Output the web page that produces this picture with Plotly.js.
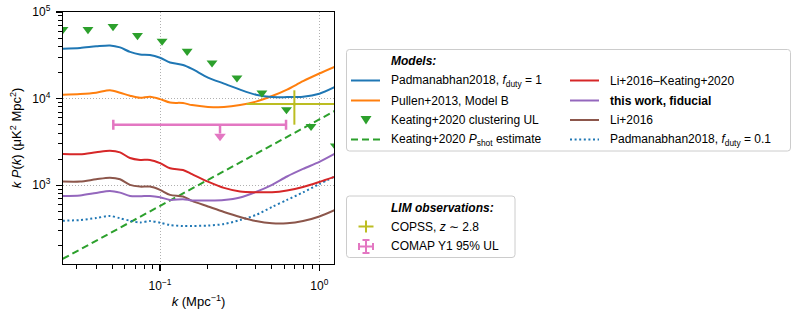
<!DOCTYPE html>
<html>
<head>
<meta charset="utf-8">
<script src="https://cdn.plot.ly/plotly-3.0.1.min.js"></script>
<style>html,body{margin:0;padding:0;background:#fff;}#chart{width:797px;height:311px;}</style>
</head>
<body>
<div id="chart"></div>
<script>
// ---------- data ----------
const kGrid = [0.0245, 0.0315, 0.0397, 0.0485, 0.0561, 0.0648, 0.0749, 0.0865, 0.100, 0.1156, 0.1394, 0.1588, 0.200, 0.252, 0.318, 0.400, 0.505, 0.627, 0.790, 1.00, 1.25];
const padm1   = [37700, 38500, 40100, 41100, 39000, 34600, 32400, 31900, 29600, 26100, 24400, 22000, 17500, 14900, 12700, 11100, 10400, 10400, 10500, 11400, 13600];
const pullen  = [11100, 11300, 11700, 12500, 11700, 10800, 10200, 10500, 9870, 8990, 8890, 8410, 8020, 7980, 8410, 9230, 10700, 12700, 15900, 19500, 23300];
const liKeat  = [2290, 2280, 2400, 2500, 2390, 2060, 1960, 1960, 1800, 1570, 1500, 1340, 1100, 931, 848, 830, 830, 871, 955, 1090, 1250];
const thisWork= [752, 762, 815, 859, 821, 750, 745, 752, 726, 676, 689, 667, 667, 676, 722, 836, 1010, 1260, 1540, 1860, 2310];
const li2016  = [1100, 1100, 1170, 1220, 1170, 1010, 963, 963, 883, 773, 739, 658, 568, 490, 429, 385, 363, 363, 385, 435, 517];
const padm01  = [389, 396, 418, 441, 415, 389, 371, 385, 369, 347, 338, 338, 342, 356, 396, 453, 561, 676, 826, 1030, 1260];

const kUL  = [0.0246, 0.0353, 0.0507, 0.0722, 0.103, 0.148, 0.212, 0.304, 0.436, 0.622, 0.887, 1.26];
const pUL  = [63000, 63000, 68200, 53700, 46100, 35300, 25900, 17400, 11640, 7460, 4780, 2850];

const kShot = [0.0245, 1.25];
const pShot = [141, 7200];

const copssK = [0.697], copssP = [8690];
const copssKlo = [0.350], copssKhi = [1.40];
const copssPlo = [5000], copssPhi = [12470];

const comapK = [0.238], comapP = [5000];
const comapKlo = [0.0509], comapKhi = [0.618];
const comapArrowP = [5000, 3950];
const comapTipP = [3670];

const xTickVals = [0.1, 1];
const xTickText = ['10<sup>−1</sup>', '10<sup>0</sup>'];
const yTickVals = [1e3, 1e4, 1e5];
const yTickText = ['10<sup>3</sup>', '10<sup>4</sup>', '10<sup>5</sup>'];

const modelNames = [
  'Padmanabhan2018, <i>f</i><sub>duty</sub> = 1',
  'Pullen+2013, Model B',
  'Keating+2020 clustering UL',
  'Keating+2020 <i>P</i><sub>shot</sub> estimate',
  'Li+2016–Keating+2020',
  '<b>this work, fiducial</b>',
  'Li+2016',
  'Padmanabhan2018, <i>f</i><sub>duty</sub> = 0.1'
];
const obsNames = ['COPSS, <i>z</i> ∼ 2.8', 'COMAP Y1 95% UL'];

// ---------- styles ----------
const C = {blue:'#1f77b4', orange:'#ff7f0e', green:'#2ca02c', red:'#d62728', purple:'#9467bd', brown:'#8c564b', pink:'#e377c2', olive:'#bcbd22'};
const FONT = 'Liberation Sans, Arial, Helvetica, sans-serif';
const LW = 2;

function curve(y, color, name, dash) {
  return {x: kGrid, y: y, type: 'scatter', mode: 'lines', name: name, showlegend: false,
          line: {color: color, width: LW, dash: dash || 'solid', shape: 'spline', smoothing: 0.8}};
}

const traces = [
  {x: kShot, y: pShot, type: 'scatter', mode: 'lines', name: modelNames[3], showlegend: false,
   line: {color: C.green, width: LW, dash: '7px,4px'}},
  curve(padm01, C.blue, modelNames[7], '2px,2.6px'),
  curve(li2016, C.brown, modelNames[6]),
  curve(thisWork, C.purple, modelNames[5]),
  curve(liKeat, C.red, modelNames[4]),
  curve(pullen, C.orange, modelNames[1]),
  curve(padm1, C.blue, modelNames[0]),
  {x: kUL, y: pUL, type: 'scatter', mode: 'markers', name: modelNames[2], showlegend: false,
   marker: {symbol: 'triangle-down', size: 9.5, color: C.green}},
  {x: copssK, y: copssP, type: 'scatter', mode: 'markers', name: obsNames[0], showlegend: false,
   marker: {size: 3, color: C.olive},
   error_x: {type: 'data', symmetric: false, array: [copssKhi[0] - copssK[0]], arrayminus: [copssK[0] - copssKlo[0]], color: C.olive, thickness: 2, width: 0},
   error_y: {type: 'data', symmetric: false, array: [copssPhi[0] - copssP[0]], arrayminus: [copssP[0] - copssPlo[0]], color: C.olive, thickness: 2, width: 0}},
  {x: comapK, y: comapP, type: 'scatter', mode: 'markers', name: obsNames[1], showlegend: false,
   marker: {size: 1, color: 'rgba(0,0,0,0)'},
   error_x: {type: 'data', symmetric: false, array: [comapKhi[0] - comapK[0]], arrayminus: [comapK[0] - comapKlo[0]], color: C.pink, thickness: 2.5, width: 5}},
  {x: [comapK[0], comapK[0]], y: comapArrowP, type: 'scatter', mode: 'lines', showlegend: false,
   line: {color: C.pink, width: 2.5}},
  {x: comapK, y: comapTipP, type: 'scatter', mode: 'markers', showlegend: false,
   marker: {symbol: 'triangle-down', size: 10, color: C.pink}}
];

// ---------- layout geometry (pixels) ----------
const W = 797, H = 311, L = 63, T = 12, PW = 271, PH = 252;
const px = v => (v - L) / PW;
const py = v => (T + PH - v) / PH;

function roundRect(x0, y0, x1, y1, r) {
  const P = (x, y) => px(x).toFixed(5) + ',' + py(y).toFixed(5);
  return 'M' + P(x0 + r, y0) + ' L' + P(x1 - r, y0) + ' Q' + P(x1, y0) + ' ' + P(x1, y0 + r) +
         ' L' + P(x1, y1 - r) + ' Q' + P(x1, y1) + ' ' + P(x1 - r, y1) +
         ' L' + P(x0 + r, y1) + ' Q' + P(x0, y1) + ' ' + P(x0, y1 - r) +
         ' L' + P(x0, y0 + r) + ' Q' + P(x0, y0) + ' ' + P(x0 + r, y0) + ' Z';
}
function seg(x0, y0, x1, y1, color, width, dash) {
  return {type: 'line', xref: 'paper', yref: 'paper', x0: px(x0), y0: py(y0), x1: px(x1), y1: py(y1),
          line: {color: color, width: width, dash: dash || 'solid'}};
}
function label(x, y, text) {
  return {xref: 'paper', yref: 'paper', x: px(x), y: py(y), xanchor: 'left', yanchor: 'middle',
          text: text, showarrow: false, font: {family: FONT, size: 12, color: '#000'}};
}

const shapes = [];
const annotations = [];

// Models legend box
shapes.push({type: 'path', xref: 'paper', yref: 'paper', path: roundRect(346.5, 49.5, 790.5, 151, 3),
             line: {color: '#cccccc', width: 1}, fillcolor: 'rgba(255,255,255,0.8)'});
annotations.push(label(389, 61.5, '<b><i>Models:</i></b>'));
const rowY = [80.5, 100.5, 120, 139.5];
const col1Colors = [[C.blue, 'solid'], [C.orange, 'solid'], null, [C.green, '7px,4px']];
const col2Colors = [[C.red, 'solid'], [C.purple, 'solid'], [C.brown, 'solid'], [C.blue, '2px,2.6px']];
for (let i = 0; i < 4; i++) {
  if (col1Colors[i]) shapes.push(seg(351, rowY[i], 380, rowY[i], col1Colors[i][0], LW, col1Colors[i][1]));
  shapes.push(seg(570, rowY[i], 599, rowY[i], col2Colors[i][0], LW, col2Colors[i][1]));
  annotations.push(label(389, rowY[i], modelNames[i]));
  annotations.push(label(608, rowY[i], modelNames[i + 4]));
}
// triangle legend symbol
shapes.push({type: 'path', xref: 'paper', yref: 'paper',
  path: 'M' + px(360.5) + ',' + py(116) + ' L' + px(371.5) + ',' + py(116) + ' L' + px(366) + ',' + py(124.5) + ' Z',
  line: {width: 0}, fillcolor: C.green});

// LIM legend box
shapes.push({type: 'path', xref: 'paper', yref: 'paper', path: roundRect(346.5, 196, 515, 257.5, 3),
             line: {color: '#cccccc', width: 1}, fillcolor: 'rgba(255,255,255,0.8)'});
annotations.push(label(389, 207.5, '<b><i>LIM observations:</i></b>'));
annotations.push(label(389, 226.5, obsNames[0]));
annotations.push(label(389, 246, obsNames[1]));
// COPSS symbol
shapes.push(seg(358.5, 226.5, 373.5, 226.5, C.olive, 2));
shapes.push(seg(366, 220.5, 366, 232.5, C.olive, 2));
// COMAP symbol
shapes.push(seg(358.5, 246.5, 373.5, 246.5, C.pink, 2));
shapes.push(seg(366, 239.5, 366, 253.5, C.pink, 2));
shapes.push(seg(359, 243, 359, 250, C.pink, 2));
shapes.push(seg(373, 243, 373, 250, C.pink, 2));
shapes.push(seg(362.5, 240, 369.5, 240, C.pink, 2));
shapes.push(seg(362.5, 253, 369.5, 253, C.pink, 2));

function minorVals(lo, hi) {
  const out = [];
  for (let e = lo; e < hi; e++) for (let d = 2; d <= 9; d++) out.push(d * Math.pow(10, e));
  return out;
}

const axisCommon = {
  type: 'log', showline: true, linecolor: '#000', linewidth: 1.3, mirror: true,
  ticks: 'outside', ticklen: 6, tickwidth: 1.2, tickcolor: '#000',
  showgrid: true, gridcolor: '#b0b0b0', gridwidth: 1, griddash: '1px,2px',
  zeroline: false, tickmode: 'array',
  tickfont: {family: FONT, size: 12, color: '#000'}
};

const layout = {
  width: W, height: H,
  margin: {l: L, r: W - L - PW, t: T, b: H - T - PH, pad: 0},
  paper_bgcolor: '#fff', plot_bgcolor: '#fff',
  showlegend: false,
  font: {family: FONT, size: 12, color: '#000'},
  xaxis: Object.assign({}, axisCommon, {
    range: [-1.609, 0.092], tickvals: xTickVals, ticktext: xTickText, ticklabelstandoff: 4,
    minor: {tickvals: minorVals(-2, 0), ticks: 'outside', ticklen: 3.5, tickwidth: 1, tickcolor: '#000', showgrid: false},
    title: {text: '<i>k</i> (Mpc<sup>−1</sup>)', font: {family: FONT, size: 13, color: '#000'}, standoff: 5}
  }),
  yaxis: Object.assign({}, axisCommon, {
    range: [2.09, 5.0], tickvals: yTickVals, ticktext: yTickText, ticklabelstandoff: 3,
    minor: {tickvals: minorVals(2, 5), ticks: 'outside', ticklen: 3.5, tickwidth: 1, tickcolor: '#000', showgrid: false},
    title: {text: '<i>k</i> <i>P</i>(<i>k</i>) (μK<sup>2</sup> Mpc<sup>2</sup>)', font: {family: FONT, size: 13, color: '#000'}, standoff: 7}
  }),
  shapes: shapes,
  annotations: annotations
};

Plotly.newPlot('chart', traces, layout, {staticPlot: true, displayModeBar: false});
</script>
</body>
</html>
